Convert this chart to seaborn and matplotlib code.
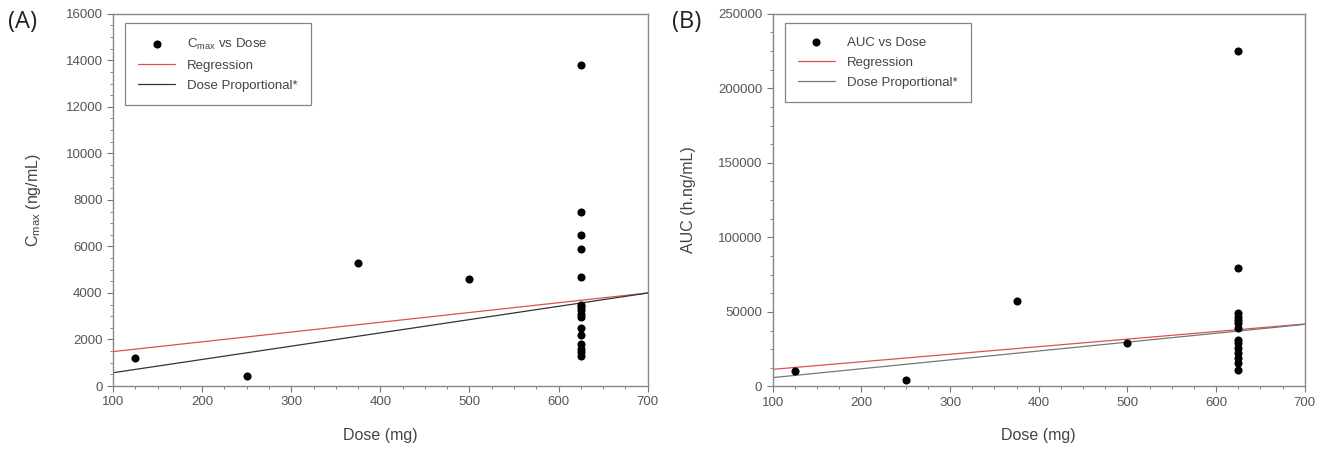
import matplotlib
matplotlib.use("Agg")
import matplotlib.pyplot as plt
import numpy as np
import pandas as pd
import seaborn as sns
from matplotlib.ticker import MultipleLocator

# Panel A: Cmax vs dose
cmax_dose = [125, 250, 375, 500,
             625, 625, 625, 625, 625, 625, 625, 625, 625, 625, 625,
             625, 625, 625, 625, 625]
cmax_values = [1200, 440, 5300, 4600,
               13800, 7500, 6500, 5900, 4700, 3500, 3400, 3250, 3100, 2950,
               2500, 2200, 1800, 1600, 1450, 1300]
cmax_reg = (1060, 4.2)      # intercept, slope
cmax_prop = 5.71            # dose-proportional slope

# Panel B: AUC vs dose
auc_dose = [125, 250, 375, 500,
            625, 625, 625, 625, 625, 625, 625, 625, 625, 625, 625,
            625, 625, 625]
auc_values = [10400, 4200, 57200, 29000,
              225000, 79500, 49000, 46800, 44600, 42400, 39000, 31200,
              29000, 25600, 22300, 18900, 15600, 11100]
auc_reg = (6430, 50.7)
auc_prop = 59.5

line_dose = np.array([100, 700])


def draw_panel(ax, dose, values, reg, prop, point_label, prop_color,
               ylim, ymajor, yminor, ylabel):
    pts = pd.DataFrame({"dose": dose, "value": values})
    sns.scatterplot(data=pts, x="dose", y="value", ax=ax, color="black",
                    s=34, edgecolor="black", linewidth=0, label=point_label,
                    zorder=3)
    sns.lineplot(x=line_dose, y=reg[0] + reg[1] * line_dose, ax=ax,
                 color="#e05050", linewidth=0.9, label="Regression")
    sns.lineplot(x=line_dose, y=prop * line_dose, ax=ax, color=prop_color,
                 linewidth=0.9, label="Dose Proportional*")
    ax.set_xlim(100, 700)
    ax.set_ylim(*ylim)
    ax.xaxis.set_major_locator(MultipleLocator(100))
    ax.xaxis.set_minor_locator(MultipleLocator(25))
    ax.yaxis.set_major_locator(MultipleLocator(ymajor))
    ax.yaxis.set_minor_locator(MultipleLocator(yminor))
    ax.tick_params(which="major", length=4, width=0.8, color="#777777",
                   labelsize=9.5, labelcolor="#555555", direction="out")
    ax.tick_params(which="minor", length=2, width=0.6, color="#777777",
                   direction="out")
    for sp in ax.spines.values():
        sp.set_color("#888888")
        sp.set_linewidth(1.0)
    ax.set_xlabel("Dose (mg)", fontsize=11.5, color="#444444", labelpad=14)
    ax.set_ylabel(ylabel, fontsize=11.5, color="#444444", labelpad=16)
    leg = ax.legend(loc="upper left", bbox_to_anchor=(0.015, 0.985),
                    frameon=True, fancybox=False, fontsize=9.5,
                    handlelength=2.8, borderpad=1.0, labelspacing=0.6,
                    borderaxespad=0.3, handletextpad=0.9)
    leg.get_frame().set_edgecolor("#666666")
    leg.get_frame().set_linewidth(0.9)
    for t in leg.get_texts():
        t.set_color("#444444")


sns.set_theme(style="ticks")
plt.rcParams["font.family"] = ["Liberation Sans", "DejaVu Sans"]

fig = plt.figure(figsize=(13.3, 4.59), dpi=100)
ax_a = fig.add_axes([0.085, 0.159, 0.402, 0.811])
ax_b = fig.add_axes([0.581, 0.158, 0.400, 0.812])

draw_panel(ax_a, cmax_dose, cmax_values, cmax_reg, cmax_prop,
           r"C$_{\mathregular{max}}$ vs Dose", "#333333",
           (0, 16000), 2000, 500, r"C$_{\mathregular{max}}$ (ng/mL)")
draw_panel(ax_b, auc_dose, auc_values, auc_reg, auc_prop,
           "AUC vs Dose", "#777777",
           (0, 250000), 50000, 12500, "AUC (h.ng/mL)")

fig.text(0.006, 0.952, "(A)", fontsize=17, color="#222222", va="center",
         family=["Open Sans", "DejaVu Sans"])
fig.text(0.505, 0.952, "(B)", fontsize=17, color="#222222", va="center",
         family=["Open Sans", "DejaVu Sans"])

fig.savefig("out.png", dpi=100)
